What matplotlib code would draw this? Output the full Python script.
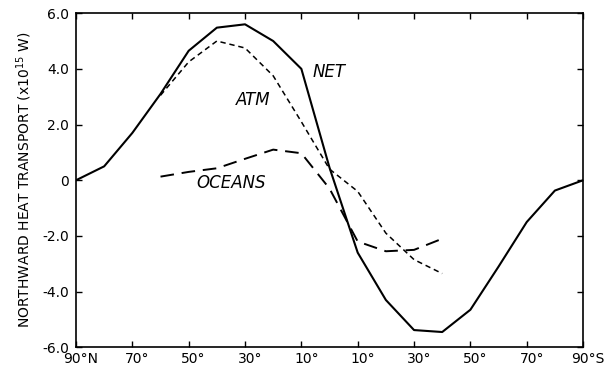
import matplotlib
matplotlib.use('Agg')
import matplotlib.pyplot as plt
import matplotlib.transforms as mtransforms

# latitude: positive = north, negative = south
lat_net = [90, 80, 70, 60, 50, 40, 30, 20, 10, 0, -10, -20, -30, -40, -50, -60, -70, -80, -90]
net = [0.0, 0.5, 1.7, 3.1, 4.65, 5.48, 5.6, 5.0, 4.0, 0.45, -2.6, -4.3, -5.38, -5.45, -4.65, -3.1, -1.5, -0.37, 0.0]

lat_atm = [60, 50, 40, 30, 20, 10, 0, -10, -20, -30, -40]
atm = [3.05, 4.25, 5.0, 4.75, 3.75, 2.1, 0.4, -0.4, -1.9, -2.85, -3.35]

lat_ocn = [60, 50, 40, 30, 20, 10, 0, -10, -20, -30, -40]
ocn = [0.13, 0.3, 0.43, 0.77, 1.1, 0.97, -0.3, -2.2, -2.55, -2.5, -2.1]

xticks = [90, 70, 50, 30, 10, -10, -30, -50, -70, -90]
xlabels = ['90°N', '70°', '50°', '30°', '10°', '10°', '30°', '50°', '70°', '90°S']
yticks = [6, 4, 2, 0, -2, -4, -6]
ylabels = ['6.0', '4.0', '2.0', '0', '-2.0', '-4.0', '-6.0']

fig = plt.figure(figsize=(6.08, 3.66), dpi=100)
ax = fig.add_axes([0.125, 0.051, 0.834, 0.913])

ax.plot(lat_net, net, color='black', linewidth=1.5)
ax.plot(lat_atm, atm, color='black', linewidth=1.1, dashes=(3.5, 2.5))
ax.plot(lat_ocn, ocn, color='black', linewidth=1.4, dashes=(7, 4))

ax.text(0, 3.9, 'NET', fontsize=12, style='italic', ha='center', va='center')
ax.text(27, 2.9, 'ATM', fontsize=12, style='italic', ha='center', va='center')
ax.text(35, -0.1, 'OCEANS', fontsize=12, style='italic', ha='center', va='center')

ax.set_xlim(90, -90)
ax.set_ylim(-6, 6)
ax.set_xticks(xticks)
ax.set_xticklabels(xlabels, fontsize=10)
ax.set_yticks(yticks)
ax.set_yticklabels(ylabels, fontsize=10)
ax.tick_params(direction='in', length=4, width=1, top=True, right=True)
ax.tick_params(axis='y', pad=5)
ax.tick_params(axis='x', pad=3)
for s in ax.spines.values():
    s.set_linewidth(1.2)

# labels sit a little right of their ticks in the original
shift = mtransforms.ScaledTranslation(5 / 100, 0, fig.dpi_scale_trans)
for lab in ax.get_xticklabels():
    lab.set_transform(lab.get_transform() + shift)

ax.set_ylabel('NORTHWARD HEAT TRANSPORT (x10$^{15}$ W)', fontsize=10, labelpad=6)

fig.savefig('out.png', dpi=100)
